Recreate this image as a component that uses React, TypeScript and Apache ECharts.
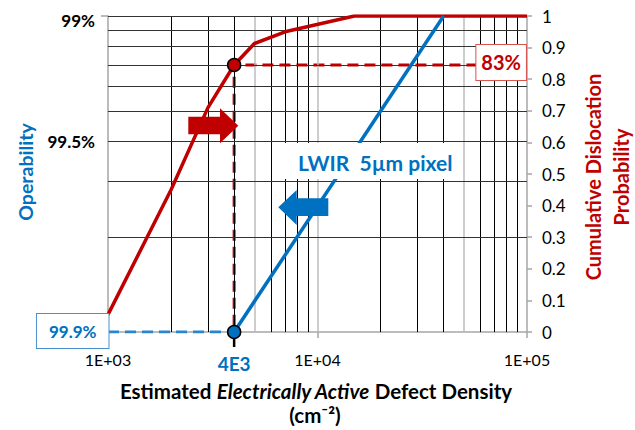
import React, { useEffect, useRef } from "react";
import * as echarts from "echarts";

// ---- data ----
const densityTicks = [1000, 10000, 100000];
const densityTickLabels = ["1E+03", "1E+04", "1E+05"];
const verticalGridDark = [2000, 3000, 4000, 6000, 7000, 8000, 9000, 20000, 30000, 40000, 60000, 70000, 80000, 90000];
const verticalGridLight = [5000, 10000, 50000];
const operabilityGrid = [99.0, 99.1, 99.2, 99.3, 99.4, 99.5, 99.6, 99.7, 99.8];
const operabilityLabelValues = [99.0, 99.6];
const operabilityLabelTexts = ["99%", "99.5%"];
const dislocationDensity = [1000, 2000, 3000, 4000, 5000, 7000, 15000, 100000];
const dislocationProb = [0.055, 0.45, 0.71, 0.845, 0.913, 0.95, 1.0, 1.0];
const pixelDensity = [4000, 40000];
const pixelOperability = [99.9, 99.0];
const designDensity = 4000;
const designOperability = 99.9;
const designProb = 0.845;
const probDashBottom = 0.02;
const probDashEnd = 57000;
const operabilityDashStart = 1000;
const designLabel = "4E3";
const probLabel = "83%";
const operabilityLabel = "99.9%";
const pixelLabel = "LWIR  5µm pixel";

const loss = (op: number) => +(100 - op).toFixed(4);

const RED = "#c00000";
const BLUE = "#0070c0";
const FONT = "Lato";

export default function App() {
  const ref = useRef<HTMLDivElement>(null);
  useEffect(() => {
    if (!ref.current) return;
    const chart = echarts.init(ref.current, undefined, { renderer: "svg" });
    const option: any = {
      animation: false,
      textStyle: { fontFamily: FONT },
      grid: { left: 108, right: 108, top: 16, bottom: 98 },
      xAxis: {
        type: "log",
        logBase: 10,
        min: densityTicks[0],
        max: densityTicks[densityTicks.length - 1],
        axisLine: { show: true, lineStyle: { color: "#a6a6a6", width: 1.5 } },
        axisTick: { show: true, length: 6, lineStyle: { color: "#a6a6a6", width: 1.5 } },
        axisLabel: {
          fontFamily: FONT,
          fontSize: 16,
          color: "#000",
          margin: 19,
          formatter: (v: number) => {
            const i = densityTicks.findIndex((t) => Math.abs(t - v) / t < 1e-6);
            return i >= 0 ? densityTickLabels[i] : "";
          },
        },
        splitLine: { show: false },
        minorTick: { show: false },
      },
      yAxis: [
        {
          type: "log",
          logBase: 10,
          min: 0.1,
          max: 1,
          position: "left",
          axisLine: { show: true, lineStyle: { color: "#a6a6a6", width: 1.5 } },
          axisTick: { show: true, length: 7, lineStyle: { color: "#a6a6a6", width: 1.5 } },
          axisLabel: { show: false },
          splitLine: { show: false },
        },
        {
          type: "value",
          min: 0,
          max: 1,
          interval: 0.1,
          position: "right",
          axisLine: { show: true, lineStyle: { color: "#a6a6a6", width: 1.5 } },
          axisTick: { show: true, length: 5, lineStyle: { color: "#a6a6a6", width: 1.5 } },
          axisLabel: {
            fontFamily: FONT,
            fontSize: 17,
            color: "#000",
            margin: 15,
            formatter: (v: number) => String(+v.toFixed(1)),
          },
          splitLine: { show: false },
        },
      ],
      series: [
        {
          type: "line",
          xAxisIndex: 0,
          yAxisIndex: 0,
          data: [],
          z: 1,
          silent: true,
          markLine: {
            silent: true,
            symbol: ["none", "none"],
            animation: false,
            data: [
              ...verticalGridDark.map((v) => ({ xAxis: v, lineStyle: { color: "#000", width: 1, type: "solid" }, label: { show: false } })),
              ...verticalGridLight.map((v) => ({ xAxis: v, lineStyle: { color: "#bdbdbd", width: 1.5, type: "solid" }, label: { show: false } })),
              ...operabilityGrid.map((op) => {
                const li = operabilityLabelValues.indexOf(op);
                return {
                  yAxis: loss(op),
                  lineStyle: { color: "#333", width: 1, type: "solid" },
                  label:
                    li >= 0
                      ? {
                          show: true,
                          position: "start",
                          distance: 13,
                          formatter: operabilityLabelTexts[li],
                          fontFamily: FONT,
                          fontSize: 17,
                          fontWeight: "bold",
                          color: "#000",
                          offset: [0, li === 0 ? 4 : 0],
                        }
                      : { show: false },
                };
              }),
            ],
          },
        },
        {
          type: "line",
          xAxisIndex: 0,
          yAxisIndex: 1,
          z: 4,
          symbol: "none",
          data: [
            [designDensity, probDashBottom],
            [designDensity, designProb],
            [probDashEnd, designProb],
          ],
          lineStyle: { color: RED, width: 3, type: [11, 6] },
        },
        {
          type: "line",
          xAxisIndex: 0,
          yAxisIndex: 0,
          z: 4,
          symbol: "none",
          data: [
            [operabilityDashStart, loss(designOperability)],
            [designDensity, loss(designOperability)],
          ],
          lineStyle: { color: "#2a85d0", width: 3, type: [11, 6] },
        },
        {
          type: "line",
          xAxisIndex: 0,
          yAxisIndex: 1,
          z: 5,
          symbol: "none",
          data: dislocationDensity.map((d, i) => [d, dislocationProb[i]]),
          lineStyle: { color: RED, width: 3.5 },
        },
        {
          type: "line",
          xAxisIndex: 0,
          yAxisIndex: 0,
          z: 5,
          symbol: "none",
          data: pixelDensity.map((d, i) => [d, loss(pixelOperability[i])]),
          lineStyle: { color: BLUE, width: 3.5 },
        },
        {
          type: "scatter",
          xAxisIndex: 0,
          yAxisIndex: 1,
          z: 6,
          symbolSize: 13,
          data: [[designDensity, designProb]],
          itemStyle: { color: RED, borderColor: "#000", borderWidth: 1.5, opacity: 1 },
        },
        {
          type: "scatter",
          xAxisIndex: 0,
          yAxisIndex: 0,
          z: 6,
          symbolSize: 13,
          data: [[designDensity, loss(designOperability)]],
          itemStyle: { color: BLUE, borderColor: "#000", borderWidth: 1.5, opacity: 1 },
          label: {
            show: true,
            position: "bottom",
            distance: 15,
            formatter: designLabel,
            fontFamily: FONT,
            fontSize: 19,
            fontWeight: "bold",
            color: BLUE,
          },
        },
        // boxed labels
        {
          type: "scatter",
          xAxisIndex: 0,
          yAxisIndex: 1,
          z: 7,
          symbolSize: 1,
          silent: true,
          data: [[probDashEnd, designProb]],
          itemStyle: { color: "rgba(0,0,0,0)", borderWidth: 0 },
          label: {
            show: true,
            position: "right",
            distance: 0,
            offset: [0, -2.5],
            opacity: 1,
            formatter: probLabel,
            fontFamily: FONT,
            fontSize: 20,
            fontWeight: "bold",
            color: RED,
            backgroundColor: "#fff",
            borderColor: "#d9534f",
            borderWidth: 1,
            padding: [7, 5, 7, 5],
            lineHeight: 21,
          },
        },
        {
          type: "scatter",
          xAxisIndex: 0,
          yAxisIndex: 0,
          z: 7,
          symbolSize: 1,
          silent: true,
          data: [[operabilityDashStart, loss(designOperability)]],
          itemStyle: { color: "rgba(0,0,0,0)", borderWidth: 0 },
          label: {
            show: true,
            position: "left",
            distance: -1,
            offset: [0, -1],
            opacity: 1,
            formatter: operabilityLabel,
            fontFamily: FONT,
            fontSize: 17,
            fontWeight: "bold",
            color: BLUE,
            backgroundColor: "#fff",
            borderColor: "#4a90d0",
            borderWidth: 1,
            padding: [8, 12, 8, 12],
            lineHeight: 18,
          },
        },
      ],
    };
    chart.setOption(option);

    const p = chart.convertToPixel({ xAxisIndex: 0, yAxisIndex: 0 }, [designDensity, loss(designOperability)]) as number[];

    chart.setOption({
      graphic: [
        {
          type: "line",
          z: 0,
          shape: { x1: p[0], y1: p[1], x2: p[0], y2: p[1] + 15 },
          style: { stroke: "#000", lineWidth: 2.5 },
        },
        // red arrow pointing right
        {
          type: "polygon",
          z: 100,
          shape: {
            points: [
              [188.3, 116.7],
              [220, 116.7],
              [220, 108.3],
              [238.3, 125.7],
              [220, 143.3],
              [220, 134.3],
              [188.3, 134.3],
            ],
          },
          style: { fill: RED },
        },
        // blue arrow pointing left
        {
          type: "polygon",
          z: 100,
          shape: {
            points: [
              [328.3, 198.3],
              [296.7, 198.3],
              [296.7, 190],
              [278.3, 207.3],
              [296.7, 225],
              [296.7, 216],
              [328.3, 216],
            ],
          },
          style: { fill: BLUE },
        },
        {
          type: "rect",
          z: 100,
          shape: { x: 282, y: 143, width: 179, height: 36 },
          style: { fill: "#fff" },
        },
        {
          type: "text",
          z: 101,
          x: 298,
          y: 162,
          style: {
            text: pixelLabel,
            fontFamily: FONT,
            fontSize: 21,
            fontWeight: "bold",
            fill: BLUE,
            textAlign: "left",
            textVerticalAlign: "middle",
          },
        },
        {
          type: "text",
          z: 101,
          x: 25,
          y: 172,
          rotation: Math.PI / 2,
          style: {
            text: "Operability",
            fontFamily: FONT,
            fontSize: 19.5,
            fontWeight: "bold",
            fill: BLUE,
            textAlign: "center",
            textVerticalAlign: "middle",
          },
        },
        {
          type: "text",
          z: 101,
          x: 607,
          y: 177,
          rotation: Math.PI / 2,
          style: {
            text: "Cumulative Dislocation\nProbability",
            fontFamily: FONT,
            fontSize: 20,
            fontWeight: "bold",
            lineHeight: 28.5,
            fill: RED,
            textAlign: "center",
            textVerticalAlign: "middle",
          },
        },
        {
          type: "text",
          z: 101,
          x: 316,
          y: 391,
          style: {
            text: "{b|Estimated }{i|Electrically Active}{b| Defect Density}",
            textAlign: "center",
            textVerticalAlign: "middle",
            rich: {
              b: { fontFamily: FONT, fontSize: 20.5, fontWeight: "bold", fill: "#000" },
              i: { fontFamily: FONT, fontSize: 20.5, fontWeight: "bold", fontStyle: "italic", fill: "#000" },
            },
          },
        },
        {
          type: "text",
          z: 101,
          x: 315,
          y: 415,
          style: {
            text: "(cm⁻²)",
            fontFamily: FONT,
            fontSize: 20.5,
            fontWeight: "bold",
            fill: "#000",
            textAlign: "center",
            textVerticalAlign: "middle",
          },
        },
      ],
    });

    return () => chart.dispose();
  }, []);
  return <div ref={ref} style={{ width: 635, height: 430, position: "absolute", left: 0, top: 0 }} />;
}
